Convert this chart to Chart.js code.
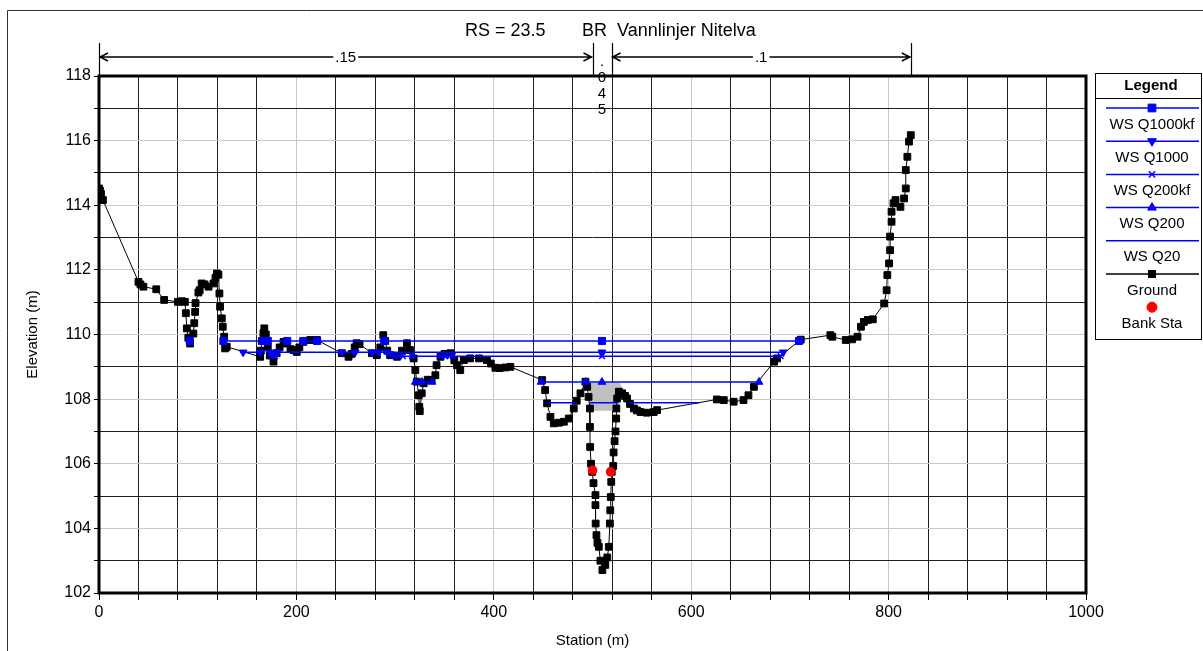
<!DOCTYPE html>
<html>
<head>
<meta charset="utf-8">
<script src="https://cdn.jsdelivr.net/npm/chart.js@4.4.1/dist/chart.umd.min.js"></script>
<style>
  html, body { margin: 0; padding: 0; background: #fff; }
  #wrap { width: 1203px; height: 651px; }
</style>
</head>
<body>
<div id="wrap"><canvas id="chart" width="1203" height="651"></canvas></div>
<script>
// --- Datos de la sección (Station m / Elevation m) ---
const groundSta = [
  0, 1, 2, 4, 40, 42, 45, 58, 66, 80,
  84, 87, 88, 89, 90.5, 92.3, 95.6, 96.5, 97.4, 97.8,
  100.7, 102, 104, 107, 111, 116, 118, 119.4, 121, 122,
  122.7, 124.4, 125.4, 126.8, 127.8, 129.4, 163.3, 164, 165, 166.6,
  167.5, 169, 171, 173, 176.8, 180, 183, 187, 190, 194,
  197, 200.4, 203, 207, 214, 220.8, 246, 252.8, 256, 259,
  261, 264, 276.5, 281.5, 285, 288, 290, 292, 295, 302,
  307, 312, 315, 318.8, 320.5, 322, 324, 324.5, 325, 327,
  329, 333, 337, 340.8, 342, 346, 350, 356, 360, 362.7,
  366, 369.6, 376, 385, 393, 397, 401.6, 406, 411.8, 416.8,
  449, 452, 454, 457.4, 460.8, 466, 471, 476, 481, 484,
  487.8, 492.9, 494.6, 496, 497.4, 497.4, 497.6, 498.5, 499.7, 501,
  503, 503, 503.2, 504, 505, 506.4, 508, 510, 513, 515,
  516.5, 517.6, 518, 518.5, 519, 519.5, 521, 521.4, 522.4, 523.3,
  524, 524.2, 525, 526.7, 530, 533, 535, 538, 542, 545,
  548.7, 555, 562, 565.5, 626, 633, 643, 653, 658, 663.5,
  684, 687, 711, 741, 743, 756.6, 763, 768.5, 772,
  775, 779, 784, 795.5, 798, 798.7, 800.5, 801.5, 801.5, 803,
  803, 805, 807, 812, 815.7, 817.4, 817.4, 819, 820.7, 822.5
];
const groundElev = [
  114.52, 114.45, 114.35, 114.16, 111.63, 111.55, 111.48, 111.40, 111.07, 111.01,
  111.03, 111.01, 110.66, 110.19, 109.90, 109.72, 110.03, 110.35, 110.70, 110.97,
  111.30, 111.37, 111.58, 111.55, 111.48, 111.58, 111.75, 111.89, 111.85, 111.27,
  110.86, 110.50, 110.24, 109.93, 109.57, 109.62, 109.31, 109.50, 109.80, 110.04,
  110.19, 110.00, 109.60, 109.35, 109.16, 109.42, 109.60, 109.77, 109.72, 109.55,
  109.52, 109.46, 109.60, 109.77, 109.83, 109.83, 109.42, 109.31, 109.40, 109.60,
  109.73, 109.70, 109.42, 109.36, 109.60, 109.98, 109.80, 109.50, 109.36, 109.31,
  109.50, 109.73, 109.52, 109.26, 108.90, 108.54, 108.12, 107.76, 107.63, 108.18,
  108.49, 108.60, 108.59, 108.74, 109.05, 109.31, 109.40, 109.42, 109.20, 109.05,
  108.90, 109.21, 109.26, 109.26, 109.21, 109.10, 108.97, 108.96, 108.98, 109.00,
  108.59, 108.28, 107.87, 107.45, 107.25, 107.27, 107.30, 107.40, 107.71, 107.95,
  108.18, 108.54, 108.38, 108.07, 107.71, 107.14, 106.52, 106.00, 105.75, 105.40,
  105.03, 104.72, 104.15, 103.79, 103.55, 103.43, 103.00, 102.71, 102.87, 103.10,
  103.43, 104.15, 104.56, 104.97, 105.44, 105.75, 105.93, 106.35, 106.70, 107.00,
  107.40, 107.71, 108.02, 108.23, 108.18, 108.10, 108.02, 107.85, 107.71, 107.65,
  107.60, 107.58, 107.60, 107.66, 107.99, 107.97, 107.92, 107.97, 108.12, 108.38,
  109.16, 109.26, 109.84, 109.98, 109.93, 109.83, 109.85, 109.93, 110.24,
  110.39, 110.45, 110.47, 110.96, 111.37, 111.84, 112.20, 112.61, 113.03, 113.49,
  113.80, 114.06, 114.16, 113.95, 114.21, 114.52, 115.09, 115.50, 115.97, 116.17
];

// Niveles de agua (null = corte del tramo)
const wsLabels = ['WS Q1000kf', 'WS Q1000', 'WS Q200kf', 'WS Q200', 'WS Q20'];
const wsElev = [109.80, 109.45, 109.33, 108.53, 107.89];
const wsQ1000kfSta = [92, null, 126, 166, 171, 190.7, 207, 221, 289, 509.6, 709.2];
const wsQ1000Sta = [146, 163.5, null, 173.2, 181, 246, 259.6, 276.6, 283.3, 291.8, 509.6, 693.3];
const wsQ200kfSta = [174, 178.5, null, 296, 300, 304, 308, 317, 346.5, 351, 355, 358.5, 509.6, 690.6];
const wsQ200Sta = [320.5, 327.3, 337.4, null, 448, 493, 509.6, 668.7];
const wsQ20Sta = [454, 484, null, 496.5, 526, null, 537, 608];

const bankSta = [500.1, 518.3];
const bankElev = [105.80, 105.75];

// Caja gris del puente
const boxSta = [496.5, 528, 531.7, 525, 498, 496.5];
const boxElev = [108.50, 108.50, 108.18, 107.64, 107.64, 108.50];

// Manning n
const nBreaks = [0, 500, 519.3, 822.5];
const nValues = ['.15', '.045', '.1'];

const titleParts = ['RS = 23.5', 'BR  Vannlinjer Nitelva'];
const xLabelValues = [0, 200, 400, 600, 800, 1000];
const yLabelValues = [102, 104, 106, 108, 110, 112, 114, 116, 118];

const FONT = "'Liberation Sans', Arial, sans-serif";
const BLUE = '#0000ff';
const GRID_DARK = '#1e1e1e';
const GRID_LIGHT = '#c8c8c8';

const toPoints = (sta, elev) => sta.map((s, i) => ({ x: s, y: elev[i] }));
const wsPoints = (sta, el) => sta.map((s, i) => s === null ? { x: sta[i - 1], y: null } : { x: s, y: el });

const wsStyles = [
  { sta: wsQ1000kfSta, pointStyle: 'rect', radius: 5, rotation: 0, bw: 1 },
  { sta: wsQ1000Sta, pointStyle: 'triangle', radius: 4.5, rotation: 180, bw: 1 },
  { sta: wsQ200kfSta, pointStyle: 'crossRot', radius: 4, rotation: 0, bw: 1.5 },
  { sta: wsQ200Sta, pointStyle: 'triangle', radius: 4.5, rotation: 0, bw: 1 },
  { sta: wsQ20Sta, pointStyle: false, radius: 0, rotation: 0, bw: 1 }
];

const datasets = [];
datasets.push({
  label: 'Bank Sta',
  data: toPoints(bankSta, bankElev),
  showLine: false,
  pointStyle: 'circle', pointRadius: 4.8,
  backgroundColor: '#ff0000', borderColor: '#ff0000', borderWidth: 0
});
wsStyles.forEach((w, i) => {
  datasets.push({
    label: wsLabels[i],
    data: wsPoints(w.sta, wsElev[i]),
    showLine: true, spanGaps: false,
    borderColor: BLUE, backgroundColor: BLUE, borderWidth: 1.5,
    pointStyle: w.pointStyle, pointRadius: w.radius, pointRotation: w.rotation,
    pointBorderWidth: w.bw, pointBackgroundColor: BLUE, pointBorderColor: BLUE
  });
});
datasets.push({
  label: 'Ground',
  data: toPoints(groundSta, groundElev),
  showLine: true,
  borderColor: '#000', backgroundColor: '#000', borderWidth: 1,
  pointStyle: 'rect', pointRadius: 4.8, pointBorderWidth: 1,
  pointBackgroundColor: '#000', pointBorderColor: '#000'
});
datasets.push({
  label: 'Bridge',
  data: toPoints(boxSta, boxElev),
  showLine: true, fill: 'shape',
  borderColor: 'rgba(0,0,0,0)', borderWidth: 0,
  backgroundColor: '#c0c0c0', pointRadius: 0
});

const legendItems = [
  { text: 'WS Q1000kf', color: BLUE, line: true, style: 'rect', radius: 5.5, rotation: 0 },
  { text: 'WS Q1000', color: BLUE, line: true, style: 'triangle', radius: 5, rotation: 180 },
  { text: 'WS Q200kf', color: BLUE, line: true, style: 'crossRot', radius: 4.5, rotation: 0 },
  { text: 'WS Q200', color: BLUE, line: true, style: 'triangle', radius: 5, rotation: 0 },
  { text: 'WS Q20', color: BLUE, line: true, style: null },
  { text: 'Ground', color: '#000', line: true, style: 'rect', radius: 5, rotation: 0 },
  { text: 'Bank Sta', color: '#ff0000', line: false, style: 'circle', radius: 5, rotation: 0 }
];

const decor = {
  id: 'decor',
  afterDraw(chart) {
    const ctx = chart.ctx;
    const a = chart.chartArea;
    const xs = chart.scales.x;
    ctx.save();

    // marco exterior
    ctx.strokeStyle = '#303030';
    ctx.lineWidth = 1;
    ctx.beginPath();
    ctx.moveTo(7.5, 651); ctx.lineTo(7.5, 10.5); ctx.lineTo(1203, 10.5);
    ctx.stroke();

    // borde del gráfico
    ctx.strokeStyle = '#000';
    ctx.lineWidth = 3;
    ctx.strokeRect(a.left, a.top, a.right - a.left, a.bottom - a.top);

    // título
    ctx.fillStyle = '#000';
    ctx.font = `18px ${FONT}`;
    ctx.textBaseline = 'middle';
    ctx.textAlign = 'left';
    ctx.fillText(titleParts[0], 465, 31);
    ctx.fillText(titleParts[1], 582, 31);

    // valores de Manning
    ctx.lineWidth = 1.2;
    ctx.font = `15px ${FONT}`;
    ctx.textAlign = 'center';
    const yArrow = 57;
    nBreaks.forEach(s => {
      const px = Math.round(xs.getPixelForValue(s)) + 0.5;
      ctx.beginPath(); ctx.moveTo(px, 43); ctx.lineTo(px, a.top); ctx.stroke();
    });
    nValues.forEach((v, i) => {
      const x1 = xs.getPixelForValue(nBreaks[i]);
      const x2 = xs.getPixelForValue(nBreaks[i + 1]);
      const xm = (x1 + x2) / 2;
      if (x2 - x1 > 40) {
        ctx.lineWidth = 1.5;
        ctx.beginPath();
        ctx.moveTo(x1, yArrow); ctx.lineTo(x2, yArrow);
        ctx.moveTo(x1 + 9, yArrow - 4); ctx.lineTo(x1 + 1, yArrow); ctx.lineTo(x1 + 9, yArrow + 4);
        ctx.moveTo(x2 - 9, yArrow - 4); ctx.lineTo(x2 - 1, yArrow); ctx.lineTo(x2 - 9, yArrow + 4);
        ctx.stroke();
        const w = ctx.measureText(v).width + 4;
        ctx.fillStyle = '#fff';
        ctx.fillRect(xm - w / 2, yArrow - 8, w, 16);
        ctx.fillStyle = '#000';
        ctx.fillText(v, xm, yArrow + 1);
      } else {
        v.split('').forEach((c, k) => ctx.fillText(c, xm, 62 + k * 16));
      }
    });

    // títulos de ejes
    ctx.font = `15px ${FONT}`;
    ctx.fillText('Station (m)', (a.left + a.right) / 2, 641);
    ctx.save();
    ctx.translate(33, (a.top + a.bottom) / 2);
    ctx.rotate(-Math.PI / 2);
    ctx.fillText('Elevation (m)', 0, 0);
    ctx.restore();

    // leyenda
    const lx = 1095, ly = 73, lw = 107, lh = 266;
    ctx.lineWidth = 1;
    ctx.strokeStyle = '#000';
    ctx.strokeRect(lx + 0.5, ly + 0.5, lw - 1, lh);
    ctx.beginPath(); ctx.moveTo(lx, 98.5); ctx.lineTo(lx + lw, 98.5); ctx.stroke();
    ctx.font = `bold 15px ${FONT}`;
    ctx.fillText('Legend', 1151, 86);
    ctx.font = `15px ${FONT}`;
    const cx = 1152;
    legendItems.forEach((it, i) => {
      const y = 108 + i * 33.2;
      if (it.line) {
        ctx.strokeStyle = it.color;
        ctx.lineWidth = 1.5;
        ctx.beginPath(); ctx.moveTo(1106, y); ctx.lineTo(1199, y); ctx.stroke();
      }
      if (it.style) {
        ctx.fillStyle = it.color;
        ctx.strokeStyle = it.color;
        ctx.lineWidth = it.style === 'crossRot' ? 1.5 : 1;
        Chart.helpers.drawPoint(ctx, { pointStyle: it.style, radius: it.radius, rotation: it.rotation, borderWidth: 1 }, cx, y);
      }
      ctx.fillStyle = '#000';
      ctx.fillText(it.text, cx, y + 16.5);
    });

    ctx.restore();
  }
};

new Chart(document.getElementById('chart'), {
  type: 'scatter',
  data: { datasets },
  options: {
    responsive: false,
    animation: false,
    devicePixelRatio: 1,
    layout: { padding: { left: 0, right: 117, top: 76, bottom: 0 } },
    plugins: { legend: { display: false }, tooltip: { enabled: false } },
    scales: {
      x: {
        type: 'linear', min: 0, max: 1000,
        afterFit: (s) => { s.height = 58; },
        border: { display: false },
        grid: {
          color: (c) => (c.tick && c.tick.value % 200 === 0) ? GRID_LIGHT : GRID_DARK,
          lineWidth: 1, tickLength: 7, tickColor: '#000'
        },
        ticks: {
          stepSize: 40, autoSkip: false, maxRotation: 0, padding: 3,
          color: '#000', font: { family: FONT, size: 16 },
          callback: (v) => xLabelValues.includes(v) ? String(v) : ''
        }
      },
      y: {
        type: 'linear', min: 102, max: 118,
        afterFit: (s) => { s.width = 99; },
        border: { display: false },
        grid: {
          color: (c) => (c.tick && c.tick.value % 2 === 0) ? GRID_LIGHT : GRID_DARK,
          lineWidth: 1, tickLength: 5, tickColor: '#000'
        },
        ticks: {
          stepSize: 1, autoSkip: false, padding: 3,
          color: '#000', font: { family: FONT, size: 16 },
          callback: (v) => yLabelValues.includes(v) ? String(v) : ''
        }
      }
    }
  },
  plugins: [decor]
});
</script>
</body>
</html>
